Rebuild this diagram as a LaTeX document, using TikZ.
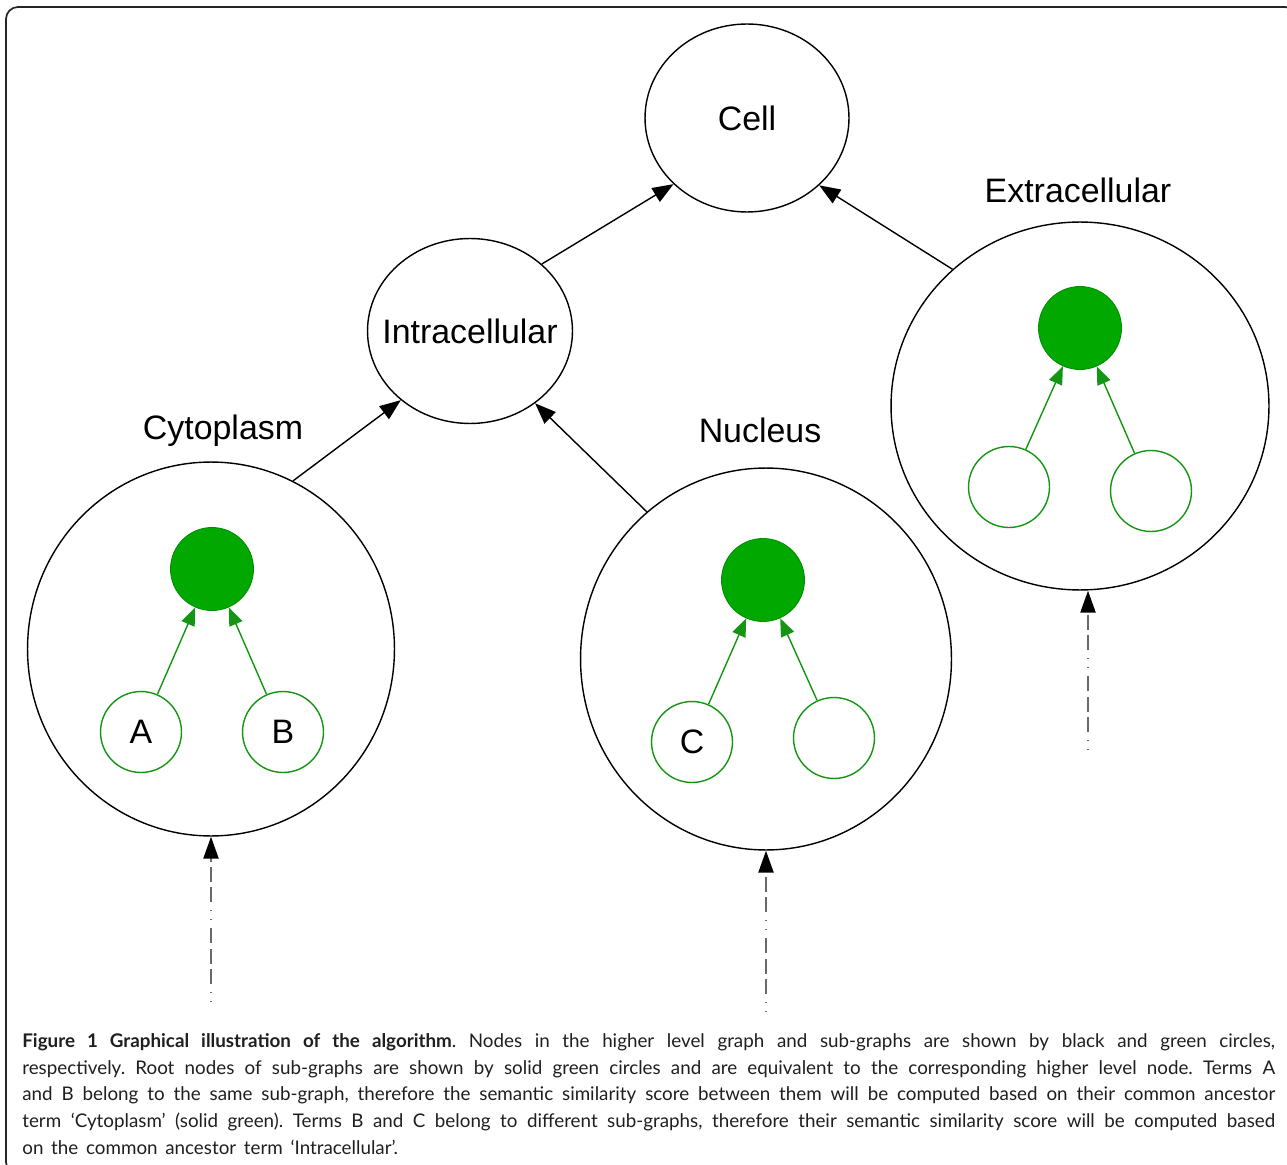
\documentclass[tikz,border=0pt]{standalone}
\usepackage{fontspec}
\setmainfont{Liberation Sans}
\newfontfamily\capfont{Lato}[WordSpace=1.6]
\usetikzlibrary{shapes.geometric,arrows.meta,positioning}
\definecolor{rootgreen}{RGB}{0,168,0}
\definecolor{termgreen}{RGB}{20,150,20}
\definecolor{feedgray}{RGB}{105,105,105}
\begin{document}
\begin{tikzpicture}[x=0.02cm, y=-0.02cm,
	every node/.style={font=\fontsize{19.3}{23}\selectfont},
	term/.style={ellipse, draw, line width=0.8pt, inner sep=0pt},
	root/.style={circle, fill=rootgreen, draw=rootgreen!85!black, line width=0.5pt, minimum size=1.66cm, inner sep=0pt},
	leaf/.style={circle, draw=termgreen, line width=0.8pt, minimum size=1.62cm, inner sep=0pt},
	link/.style={-{Triangle[length=0.42cm, width=0.32cm]}, line width=0.8pt},
	sublink/.style={-{Triangle[length=0.36cm, width=0.28cm]}, draw=termgreen, fill=termgreen, line width=0.8pt},
	feed/.style={-{Triangle[length=0.44cm, width=0.3cm, color=black]}, draw=feedgray, line width=1.3pt,
		dash pattern=on 0.6pt off 4.6pt on 0.6pt off 4.6pt on 8.5pt off 3pt on 8.5pt off 3pt on 8.5pt off 4.5pt}]
	\useasboundingbox (0,0) rectangle (1287,1165);
	\draw[line width=1pt, rounded corners=0.24cm, black!85] (6,7) rectangle (1297,1174);

	\node (cell) [term, minimum width=4.08cm, minimum height=3.76cm, label=center:Cell] at (747,118) {};
	\node (intra) [term, minimum width=4.1cm, minimum height=3.7cm, label=center:Intracellular] at (470,331) {};
	\node (cyto) [term, minimum width=7.34cm, minimum height=7.48cm] at (211,649) {};
	\node (nuc) [term, minimum width=7.42cm, minimum height=7.64cm] at (766,659) {};
	\node (extra) [term, minimum width=7.56cm, minimum height=7.36cm] at (1080,406) {};

	\node (cytolabel) at (223,431) {Cytoplasm};
	\node (nuclabel) at (760,430) {Nucleus};
	\node (extralabel) at (1078,190) {Extracellular};

	\node (cytoroot) [root] at (212,569) {};
	\node (a) [leaf] at (141,732) {A};
	\node (b) [leaf] at (283,732) {B};
	\node (nucroot) [root] at (763,580) {};
	\node (c) [leaf] at (692,742) {C};
	\node (nucleaf) [leaf] at (834,738) {};
	\node (extraroot) [root] at (1080,328) {};
	\node (extraleft) [leaf] at (1009,487) {};
	\node (extraright) [leaf] at (1151,491) {};

	\draw[link] (intra.43) -- (cell.222);
	\draw[link] (extra.133) -- (cell.317);
	\draw[link] (cyto.64) -- (intra.225);
	\draw[link] (nuc.129) -- (intra.312);

	\draw[sublink] (a) -- (cytoroot);
	\draw[sublink] (b) -- (cytoroot);
	\draw[sublink] (c) -- (nucroot);
	\draw[sublink] (nucleaf) -- (nucroot);
	\draw[sublink] (extraleft) -- (extraroot);
	\draw[sublink] (extraright) -- (extraroot);

	\coordinate (cytofeed) at (211,1002);
	\coordinate (nucfeed) at (766,1012);
	\coordinate (extrafeed) at (1088,750);
	\draw[feed] (cytofeed) -- (cyto.south);
	\draw[feed] (nucfeed) -- (nuc.south);
	\draw[feed] (extrafeed) -- (extrafeed |- extra.south);

	\node (caption) [anchor=north west, inner sep=0pt, text width=25.06cm, align=justify, text=black!88,
		font=\capfont\fontsize{10.7}{15.2}\selectfont] at (22,1033) {\hyphenpenalty=10000 \frenchspacing
		\textbf{Figure 1 Graphical illustration of the algorithm}. Nodes in the higher level graph and sub-graphs are shown by black and green circles,\linebreak
		respectively. Root nodes of sub-graphs are shown by solid green circles and are equivalent to the corresponding higher level node. Terms A\linebreak
		and B belong to the same sub-graph, therefore the semantic similarity score between them will be computed based on their common ancestor\linebreak
		term ‘Cytoplasm’ (solid green). Terms B and C belong to different sub-graphs, therefore their semantic similarity score will be computed based\linebreak
		on the common ancestor term ‘Intracellular’.};
\end{tikzpicture}
\end{document}
